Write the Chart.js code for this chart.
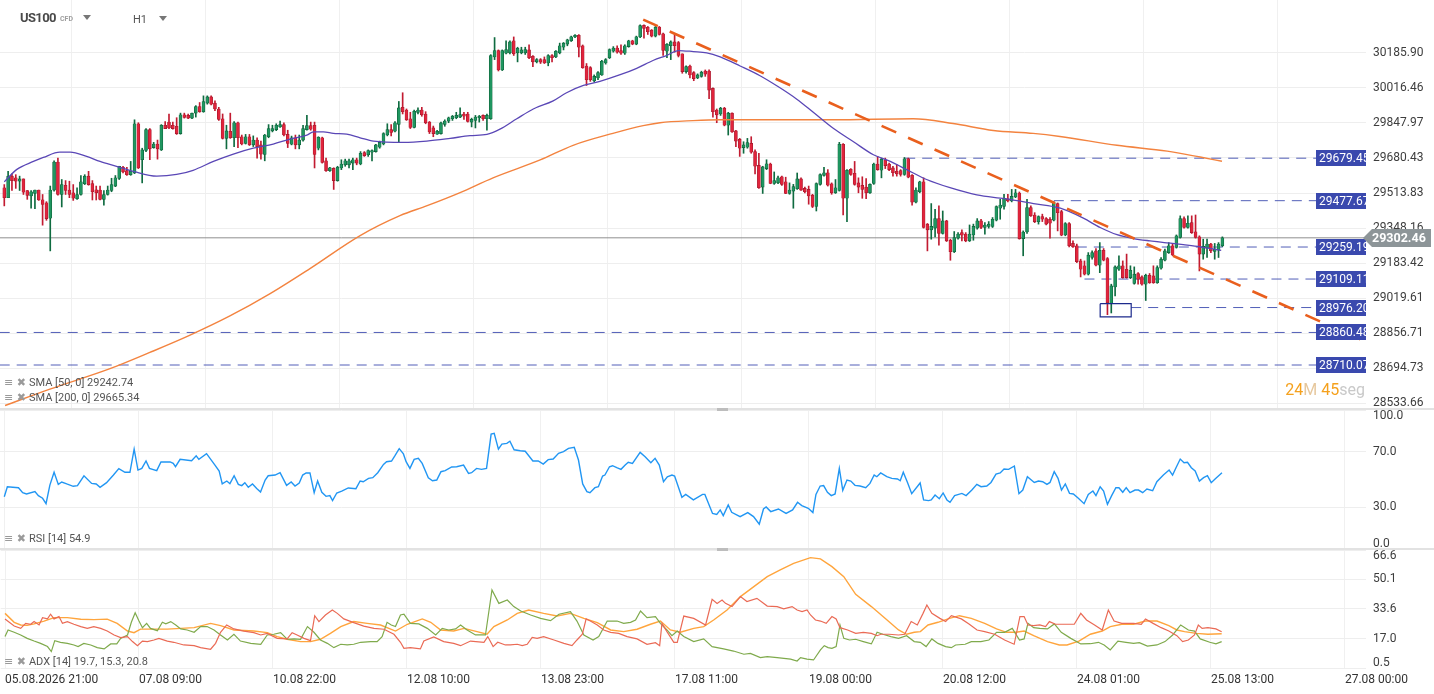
<!DOCTYPE html>
<html>
<head>
<meta charset="utf-8">
<script src="https://cdn.jsdelivr.net/npm/chart.js@4.4.1/dist/chart.umd.min.js"></script>
<style>
  body { margin: 0; background: #fff; width: 1434px; height: 694px; overflow: hidden; position: relative; font-family: Roboto, sans-serif; }
  canvas { position: absolute; left: 0; }
  .ov { position: absolute; white-space: nowrap; }
  .leg { position: absolute; left: 4px; font-size: 11px; color: #555; line-height: 12px; }
  .leg .ic { font-family: "DejaVu Sans"; color: #9a9a9a; font-size: 11px; margin-right: 3px; }
  .tri { position: absolute; width: 0; height: 0; border-left: 4px solid transparent; border-right: 4px solid transparent; border-top: 5px solid #777; }
  .sep { position: absolute; left: 0; width: 1434px; height: 2px; background: #e2e2e2; }
  .handle { position: absolute; left: 717px; width: 11px; height: 3px; background: #bdbdbd; }
</style>
</head>
<body>
<canvas id="priceChart" width="1434" height="409" style="top:0"></canvas>
<canvas id="rsiChart" width="1434" height="139" style="top:410px"></canvas>
<canvas id="adxChart" width="1434" height="144" style="top:550px"></canvas>

<div class="sep" style="top:408px"></div>
<div class="sep" style="top:548px"></div>
<div class="handle" style="top:408px"></div>
<div class="handle" style="top:548px"></div>

<div class="ov" style="left:20px;top:10px;font-size:13px;font-weight:bold;color:#4a4a4a;letter-spacing:-0.6px">US100</div>
<div class="ov" style="left:60px;top:15px;font-size:7px;font-weight:bold;color:#9e9e9e">CFD</div>
<div class="tri" style="left:83px;top:15px"></div>
<div class="ov" style="left:133px;top:13px;font-size:11px;color:#555">H1</div>
<div class="tri" style="left:159px;top:16px"></div>

<div class="leg" style="top:377px"><span class="ic">≡ ✖</span>SMA [50, 0] 29242.74</div>
<div class="leg" style="top:392px"><span class="ic">≡ ✖</span>SMA [200, 0] 29665.34</div>
<div class="leg" style="top:533px"><span class="ic">≡ ✖</span>RSI [14] 54.9</div>
<div class="leg" style="top:656px"><span class="ic">≡ ✖</span>ADX [14] 19.7, 15.3, 20.8</div>

<div class="ov" style="right:69px;top:380px;font-size:16px"><span style="color:#f5a11d">24</span><span style="color:#e6c79d">M</span> <span style="color:#f5a11d">45</span><span style="color:#c9c9c9">seg</span></div>

<script>
// time axis labels, one every 35 hourly bars
const xLabels = ["05.08.2026 21:00", "07.08 09:00", "10.08 22:00", "12.08 10:00", "13.08 23:00",
  "17.08 11:00", "19.08 00:00", "20.08 12:00", "24.08 01:00", "25.08 13:00", "27.08 00:00"];
const barsPerLabel = 35;

// price axis ticks
const priceTicks = [30185.90, 30016.46, 29847.97, 29680.43, 29513.83, 29348.16, 29183.42, 29019.61, 28856.71, 28694.73, 28533.66];
const rsiTicks = [0, 30, 70, 100];
const adxTicks = [0.5, 17.0, 33.6, 50.1, 66.6];

// hourly candles
const opens = [29539,29492,29594,29586,29570,29581,29526,29500,29512,29528,
  29482,29468,29395,29528,29661,29507,29551,29528,29515,29487,
  29507,29558,29594,29559,29529,29528,29484,29507,29526,29547,
  29583,29636,29620,29601,29609,29844,29672,29716,29816,29730,
  29747,29719,29837,29852,29837,29832,29797,29887,29884,29871,
  29895,29927,29902,29943,29973,29943,29915,29868,29774,29808,
  29777,29849,29782,29750,29782,29743,29766,29743,29697,29782,
  29810,29816,29829,29840,29793,29746,29777,29743,29766,29816,
  29835,29837,29727,29777,29667,29620,29631,29573,29633,29648,
  29648,29656,29672,29652,29706,29696,29708,29711,29732,29747,
  29790,29816,29808,29841,29923,29910,29868,29826,29899,29910,
  29891,29852,29824,29794,29797,29841,29857,29868,29873,29876,
  29891,29891,29852,29860,29873,29884,29868,29868,30166,30197,
  30103,30184,30186,30244,30186,30186,30186,30200,30169,30142,
  30153,30153,30137,30173,30166,30186,30213,30228,30244,30263,
  30271,30220,30122,30114,30051,30064,30079,30137,30162,30194,
  30209,30197,30184,30216,30244,30228,30263,30319,30310,30296,
  30267,30311,30278,30194,30220,30239,30236,30181,30095,30122,
  30090,30064,30072,30098,30098,30014,29910,29891,29918,29837,
  29895,29810,29769,29730,29732,29750,29711,29645,29542,29630,
  29652,29559,29562,29591,29567,29512,29523,29534,29581,29536,
  29531,29504,29450,29555,29597,29610,29558,29515,29526,29746,
  29489,29627,29608,29562,29550,29542,29515,29559,29652,29622,
  29671,29652,29633,29617,29620,29602,29677,29598,29471,29520,
  29567,29367,29340,29348,29393,29323,29382,29291,29237,29301,
  29327,29320,29288,29316,29348,29382,29351,29356,29356,29385,
  29442,29450,29487,29476,29495,29514,29299,29330,29445,29410,
  29378,29403,29393,29390,29385,29464,29426,29316,29370,29276,
  29265,29194,29171,29132,29210,29241,29174,29244,29205,28995,
  29072,29155,29171,29155,29116,29089,29135,29119,29085,29127,
  29124,29092,29160,29197,29233,29265,29257,29304,29393,29351,
  29374,29331,29307,29226,29254,29273,29238,29244,29265];
const highs = [29554,29617,29605,29601,29594,29581,29526,29526,29528,29528,
  29507,29473,29547,29667,29680,29578,29573,29570,29554,29539,
  29597,29601,29617,29573,29547,29547,29526,29547,29584,29597,
  29641,29641,29636,29664,29863,29849,29727,29821,29821,29755,
  29766,29840,29855,29891,29852,29873,29895,29895,29891,29895,
  29931,29946,29978,29978,29978,29954,29923,29891,29837,29895,
  29855,29852,29790,29793,29793,29786,29777,29761,29793,29840,
  29837,29844,29857,29848,29813,29785,29790,29790,29837,29884,
  29852,29852,29782,29780,29680,29636,29634,29641,29672,29675,
  29675,29680,29680,29711,29711,29719,29719,29746,29761,29801,
  29844,29840,29855,29951,29993,29915,29899,29910,29920,29923,
  29902,29855,29833,29813,29852,29863,29876,29884,29899,29920,
  29899,29899,29871,29884,29884,29887,29891,30177,30260,30200,
  30200,30244,30244,30263,30213,30213,30213,30225,30173,30158,
  30158,30166,30177,30177,30197,30233,30236,30252,30267,30275,
  30275,30224,30134,30119,30079,30095,30150,30158,30205,30216,
  30220,30225,30225,30247,30247,30267,30322,30322,30314,30299,
  30314,30314,30282,30231,30244,30275,30241,30181,30123,30126,
  30095,30084,30097,30103,30103,30017,29915,29923,29923,29899,
  29896,29813,29774,29758,29774,29782,29719,29703,29641,29672,
  29656,29614,29594,29594,29589,29562,29555,29609,29586,29542,
  29547,29508,29562,29605,29636,29625,29562,29578,29755,29749,
  29625,29630,29664,29586,29591,29583,29558,29656,29688,29680,
  29680,29656,29641,29649,29625,29683,29680,29602,29539,29570,
  29586,29370,29464,29437,29453,29429,29385,29296,29332,29327,
  29340,29327,29363,29367,29393,29390,29374,29379,29398,29453,
  29484,29508,29508,29531,29531,29519,29335,29484,29453,29421,
  29406,29414,29398,29398,29473,29467,29432,29374,29374,29288,
  29273,29202,29194,29233,29241,29252,29280,29252,29210,29085,
  29171,29218,29194,29226,29171,29166,29139,29124,29132,29135,
  29171,29171,29210,29249,29280,29276,29316,29406,29401,29406,
  29406,29410,29312,29296,29296,29276,29276,29280,29307];
const lows = [29453,29492,29526,29536,29526,29507,29484,29442,29440,29479,
  29362,29385,29241,29523,29504,29448,29507,29492,29479,29484,
  29504,29554,29551,29481,29481,29481,29457,29504,29520,29544,
  29578,29609,29598,29598,29606,29630,29562,29711,29672,29727,
  29675,29716,29821,29821,29818,29793,29794,29871,29868,29868,
  29876,29899,29899,29938,29934,29907,29860,29771,29724,29774,
  29735,29730,29743,29747,29740,29735,29680,29675,29667,29777,
  29805,29811,29826,29786,29730,29743,29724,29724,29761,29813,
  29813,29633,29719,29656,29617,29617,29531,29570,29625,29641,
  29633,29625,29648,29648,29688,29688,29667,29708,29727,29743,
  29786,29786,29805,29755,29891,29860,29821,29824,29891,29880,
  29844,29797,29782,29793,29794,29832,29849,29860,29868,29873,
  29865,29852,29829,29824,29852,29860,29813,29865,30153,30098,
  30100,30181,30181,30173,30142,30181,30178,30158,30119,30137,
  30134,30134,30123,30142,30162,30181,30200,30220,30241,30260,
  30166,30111,30028,30048,30045,30056,30076,30131,30158,30189,
  30184,30178,30178,30213,30225,30225,30260,30257,30275,30263,
  30263,30272,30173,30162,30153,30189,30166,30087,30087,30064,
  30051,30061,30068,30072,29965,29876,29849,29884,29834,29790,
  29802,29735,29688,29703,29727,29703,29605,29536,29512,29625,
  29558,29555,29558,29550,29511,29508,29442,29531,29526,29515,
  29461,29445,29429,29551,29594,29547,29508,29512,29523,29410,
  29378,29598,29551,29515,29489,29487,29512,29555,29622,29586,
  29630,29620,29594,29594,29594,29598,29586,29457,29467,29515,
  29348,29241,29296,29307,29268,29320,29285,29197,29233,29296,
  29288,29284,29285,29291,29343,29346,29320,29348,29351,29382,
  29390,29437,29472,29472,29492,29296,29218,29323,29403,29374,
  29367,29379,29363,29301,29382,29335,29312,29312,29260,29257,
  29186,29119,29128,29128,29202,29171,29139,29194,28943,28951,
  29030,29150,29113,29113,29111,29085,29085,29081,29009,29089,
  29089,29089,29155,29194,29229,29219,29254,29301,29348,29348,
  29323,29301,29147,29202,29210,29233,29202,29210,29261];
const closes = [29492,29594,29573,29570,29581,29518,29503,29520,29528,29481,
  29460,29393,29528,29661,29507,29554,29526,29507,29489,29507,
  29567,29594,29554,29520,29515,29484,29507,29528,29554,29586,
  29641,29614,29601,29617,29844,29633,29719,29816,29724,29747,
  29724,29837,29821,29824,29821,29797,29887,29874,29871,29895,
  29927,29902,29951,29973,29938,29915,29865,29774,29810,29777,
  29849,29777,29747,29782,29743,29766,29735,29699,29790,29821,
  29821,29837,29840,29790,29750,29777,29743,29766,29821,29835,
  29818,29697,29779,29659,29620,29634,29573,29636,29652,29667,
  29667,29672,29656,29703,29692,29716,29716,29743,29755,29797,
  29816,29802,29849,29920,29902,29863,29826,29904,29910,29887,
  29849,29805,29797,29808,29848,29857,29873,29880,29884,29888,
  29880,29855,29865,29876,29880,29868,29884,30173,30197,30103,
  30197,30202,30239,30181,30208,30200,30202,30162,30142,30153,
  30141,30137,30173,30162,30194,30220,30233,30249,30264,30271,
  30213,30114,30056,30056,30072,30090,30145,30153,30202,30209,
  30189,30184,30220,30244,30228,30264,30318,30304,30288,30267,
  30310,30275,30197,30228,30239,30220,30173,30095,30119,30079,
  30061,30079,30092,30083,30006,29902,29887,29918,29837,29895,
  29805,29761,29727,29743,29754,29708,29641,29539,29638,29653,
  29559,29573,29586,29555,29512,29528,29544,29581,29528,29520,
  29500,29450,29559,29602,29610,29551,29515,29539,29746,29489,
  29622,29602,29555,29542,29531,29515,29555,29652,29625,29675,
  29644,29625,29610,29605,29602,29677,29589,29471,29528,29567,
  29351,29340,29356,29393,29323,29382,29288,29237,29304,29320,
  29315,29288,29320,29356,29382,29351,29363,29367,29390,29450,
  29457,29489,29476,29498,29515,29299,29330,29445,29406,29379,
  29403,29390,29367,29371,29468,29421,29315,29370,29265,29260,
  29191,29155,29132,29221,29233,29174,29244,29197,28998,29077,
  29166,29171,29116,29116,29150,29132,29108,29085,29127,29092,
  29092,29163,29202,29241,29265,29222,29312,29393,29351,29371,
  29327,29304,29226,29262,29273,29241,29249,29273,29302.46];

// moving averages read at bar positions
const sma50Idx = [0,3.2,7.6,10.2,14.5,17.2,21.5,25,29.3,33.7,39.8,45,49.3,54.6,59.8,65,70.2,74.6,79,80.7,
  83.3,85.9,89.4,92.9,96.4,104.2,110.3,116.4,121.6,126,129.4,133.8,138.1,143.3,146.8,151.2,155.5,160.8,165.1,169.5,
  173,176,179.9,183.4,186.9,192.1,197.3,202.4,206.9,211.2,216.5,221.7,226.9,231.3,235.6,240.8,246.9,253.9,261.2,268.7,
  275.7,281.7,286.1,290.5,294.8,299.1,303.5,307.8,312.2,317.7];
const sma50Val = [29567,29625,29664,29683,29708,29708,29688,29664,29641,29617,29594,29602,29622,29664,29699,29727,29747,29771,29790,29805,
  29805,29798,29794,29777,29761,29755,29761,29774,29787,29793,29818,29868,29915,29954,29993,30028,30048,30080,30111,30150,
  30174,30197,30192,30186,30166,30122,30075,30018,29962,29899,29821,29758,29696,29664,29625,29578,29539,29505,29487,29464,
  29442,29395,29351,29317,29299,29288,29279,29270,29260,29243];
const sma200Idx = [0.2,11.9,27.6,38,48.5,58.9,69.4,79.8,92.9,103.3,110.4,119,127.6,139.9,148.5,158.9,166.8,171.2,179.8,186.9,
  216.4,237.3,247.7,258.2,268.6,275.6,290.5,303.6,312.2,317.9];
const sma200Val = [28524,28599,28693,28768,28848,28937,29041,29158,29313,29407,29454,29516,29586,29671,29741,29798,29835,29849,29859,29863,
  29863,29868,29845,29812,29798,29783,29741,29713,29685,29665];

// drawn objects
const trendIdx = [166.8, 354];
const trendPrice = [30347, 28829];
const hLevels = [29679.45, 29477.67, 29259.19, 29109.11, 28976.20, 28860.48, 28710.07];
const hStartIdx = [235.2, 274, 280, 282, 294.2, -1.2, -1.2];
const boxIdx = [286.1, 294.2];
const boxPrice = [28933, 28994];

// RSI [14]
const rsiPoints = [[0,37.6],[0.8,44.8],[3.7,44.1],[4.8,40.5],[5.8,39.6],[8,41.3],[8.9,38.4],[10,36.5],[10.9,32.6],[11.9,46],
  [13,55.2],[14.1,46.5],[15,48.2],[16.3,46.8],[18,45.1],[19.1,45.6],[20.8,52.7],[22.8,47.2],[24,46.8],[25,44.4],
  [26.7,47.7],[28.5,53.2],[29.9,57.8],[31.5,55.2],[32.8,55.2],[33.9,71.9],[34.9,56.8],[35.9,58],[37,63.3],[37.9,58],
  [39.8,56.4],[40.9,62.6],[43.3,62.6],[44.1,61.6],[44.7,59.2],[45.9,64.5],[48.9,63.5],[50.1,67.1],[50.8,64.5],[52.8,68.6],
  [55,60.4],[56.1,56.1],[56.9,46.8],[58.1,48.9],[58.9,47],[60,52.7],[61.1,46.5],[62,45.6],[62.8,47.7],[63.7,44.4],
  [64.8,46.8],[65.9,43.6],[66.9,41],[68.1,49.6],[68.9,52.7],[70.7,53.2],[72,54.9],[73.7,45.8],[74.9,48.2],[75.9,45.3],
  [77,47.5],[77.9,53.2],[78.8,54.7],[79.8,54.7],[80.9,40.5],[81.8,48.9],[82.9,40.8],[84,37.9],[85,38.4],[85.7,34.8],
  [86.8,40.3],[88.1,41.7],[89.8,43.9],[91.8,43.4],[92.9,48.9],[93.7,48.4],[95.1,50.8],[96.2,51.3],[97.5,54.9],[99,60.9],
  [99.8,62.8],[101.1,63.3],[102,67.1],[103.1,72.2],[104.2,68.4],[104.9,62.8],[105.9,58],[107,64.5],[108.1,65.2],[109.1,61.6],
  [110.7,51.3],[111.8,49.1],[112.9,49.6],[114,55.6],[115.1,56.4],[116.8,59],[118.1,59.2],[119.9,60.4],[121.2,54.4],[122,54.9],
  [123.3,58],[124.6,57.3],[125.9,58],[127.1,82.7],[127.9,83.2],[129,71.9],[129.9,75.5],[131.2,76],[132,77.5],[133.1,71.4],
  [134.7,70.7],[136,70.3],[138,63.3],[139.4,63.3],[140.7,61.1],[142,64.3],[143.3,64.7],[144.7,68.8],[146,70],[147.3,72.4],
  [148.8,73.1],[149.9,64],[151,46.8],[152.1,41.3],[152.9,40.5],[154.2,44.1],[155.1,44.8],[156.2,52.5],[156.8,53.2],[158,59.2],
  [158.8,59.9],[159.9,58.5],[161,57.3],[162.1,60.4],[162.9,62.4],[164,61.6],[166,69.5],[167.3,66.4],[168.8,62.1],[169.9,65.2],
  [171,60.4],[172.1,48.4],[173.1,52],[174.3,53.2],[175,52.5],[176.9,37.2],[177.9,39.3],[179.9,35.3],[182.3,39.3],[182.9,39.3],
  [184.9,25.6],[186,24.9],[186.9,28.1],[187.7,24],[189,31.7],[189.9,26.4],[192.1,23.3],[194.1,26.2],[195.6,23.3],[197.1,17.8],
  [198.2,28.8],[198.9,30.2],[200.1,26.9],[202.1,28.8],[204.1,25.6],[205.8,28.1],[207.1,33.6],[208.2,31.2],[209.9,29.3],[211.1,26.2],
  [211.9,39.3],[213,45.3],[213.9,45.6],[214.9,40.8],[215.9,38.4],[216.9,39.6],[218,58],[218.9,42.2],[220,49.6],[221,48.9],
  [222.1,45.8],[223.4,45.3],[224.9,44.1],[226,47.2],[227.1,53.2],[227.8,52],[228.8,54.7],[230.4,52],[231.7,50.8],[233.2,50.4],
  [233.9,49.1],[234.7,55.2],[235.8,47.9],[236.9,39.8],[239.1,47.5],[240,35.3],[241.3,34.8],[242,35.3],[243,38.8],[244.1,36.2],
  [245.1,40.3],[246.1,35.3],[246.9,33.6],[248.1,38.4],[250,40],[251.1,38.4],[252.6,42.4],[253.9,46.5],[255,44.8],[256.5,45.3],
  [257.6,47.9],[258.9,53.9],[260,54.7],[261,57.6],[262.2,57.3],[263.7,59.7],[264.9,39.8],[265.9,42.4],[267.1,52],[268.9,47.9],
  [270,48.9],[271.1,48.4],[272.2,46.5],[273,47.9],[274.1,55.6],[275.1,50.8],[276,42.4],[277,46.8],[278.1,40],[279.1,39.6],
  [280.4,36.5],[281.9,32.6],[283,39.3],[284.2,41.7],[285,38.4],[286.1,44.8],[287,41.7],[288,32.1],[289.1,38.4],[290.2,44.1],
  [291,44.1],[292,40.8],[292.9,44.1],[293.9,40.5],[295.2,42.4],[296.1,42.4],[297.2,40.5],[298.3,43.1],[299.8,41.9],[300.9,48.4],
  [302.6,53.2],[304.1,56.8],[305,53.2],[305.9,58.5],[307,64.7],[308,62.1],[308.9,62.4],[309.9,58.5],[310.9,56.1],[312,48.9],
  [313.1,51.3],[314.1,52.7],[315.1,47.7],[316.1,50.4],[317.9,54.9]];

// ADX [14]: ADX line, +DI, -DI
const adxPoints = [[0,31.1],[2.4,26.1],[4.1,24.6],[5.8,24.4],[7.6,25.2],[10.2,26.8],[12.8,28.7],[16.3,28.7],[19.8,27.8],[23.2,27.6],
  [26.7,27.9],[29.3,25.5],[32,21.2],[33.7,20.3],[35.4,22.3],[38.9,22.3],[42.4,22.3],[45.9,22.7],[49.4,23.1],[53.7,25.5],
  [56.3,24.2],[59.8,21.8],[65,21.2],[68.5,20.3],[71.1,18.1],[73.7,16.6],[77.2,15.3],[79.8,15.3],[82.4,16.6],[85,19.9],
  [87.7,23.7],[91.1,26.5],[94.6,25.5],[98.1,24.6],[102,21.2],[105.1,25],[109,28],[111.2,26.1],[113.8,21.8],[117.2,21.2],
  [119.9,22.7],[123.3,20.9],[125.9,19.4],[127.7,23.7],[131.2,27.4],[133.8,31.1],[136.8,33],[140.7,31.1],[144.2,29.6],[147.7,31.1],
  [151.2,28.3],[154.7,25.9],[158.2,21.8],[161.6,20.9],[165.1,22.2],[168.6,25],[171.2,26.8],[173.8,21.8],[176.4,20.5],[179.9,22.7],
  [182.5,23.7],[185.1,27.4],[188.6,33],[192.1,40.5],[195.6,46.1],[199.1,51.7],[202.5,55.4],[206,59.1],[210.4,62.3],[213,61.6],
  [216,57.3],[219.1,51.7],[222.2,41.8],[226.3,34.9],[230.4,27.4],[233.4,21.8],[235.5,19.4],[237.5,20.5],[239.1,20.9],[241.1,24.6],
  [243.7,26.1],[246.7,28.3],[249.3,29.8],[252.4,28.3],[255.9,25.5],[259,22.4],[261.6,20.5],[264.1,20.5],[266.2,21.2],[268.7,18.6],
  [272.3,15.3],[275.4,13.4],[277.4,13.4],[280.5,15.6],[283.5,19.4],[286.6,21.2],[288.7,23.7],[291.7,25],[294.8,25],[297.9,26.8],
  [300.9,26.8],[304,24.2],[306.1,21.8],[308.1,20.9],[311.2,19.9],[314.2,19.4],[317.8,19.7]];
const plusDiPoints = [[0,18.1],[0.8,21.8],[2.4,20.5],[4.1,19],[5.8,17.1],[7.6,15.6],[9.3,14.3],[11.1,12.5],[12.1,9.7],[13,15.8],
  [14.5,14.9],[16.3,14.3],[18,13.4],[19.1,12.5],[20.6,14.3],[22.4,13.4],[24.1,11.9],[25.9,11.2],[27.6,14],[29.2,14],
  [30.2,17.1],[32,19],[33,26.1],[34,31.5],[35,26.8],[35.9,23.1],[37,25.5],[38,22.7],[39.8,21.4],[41.1,26.1],
  [42,25.2],[43.3,26.5],[44.6,24.6],[45.9,22.4],[47.6,21.8],[49.4,20.5],[51.1,23.7],[52.8,23.7],[54.6,21.8],[56.3,19],
  [58.1,16.2],[59.8,19.4],[61.5,15.6],[64.2,14.3],[66.8,13.8],[68.5,19],[70.2,19.4],[72,20.3],[73.7,16.6],[75.5,16.8],
  [77.2,16.6],[79,23.7],[80.7,20.5],[82.4,16.2],[84.2,14.3],[85.9,11.9],[87.7,13.8],[89.4,13.4],[91.1,13.8],[92.9,14.9],
  [95.5,15.3],[97.2,15.3],[98.5,18.1],[99.8,26.1],[100.9,24.6],[102,23.7],[103.3,30.2],[104.2,30.6],[105.9,25.5],[108.1,25.2],
  [110.3,22.7],[112.5,19],[114.2,22.7],[115.9,21.8],[117.7,22.4],[119,24.6],[120.7,21.8],[122.9,19],[125.5,19],[127.2,44.2],
  [129,36.7],[131.2,38.6],[132.9,34.9],[134.7,32.4],[137.3,30.2],[139.9,28.3],[142.5,27],[144.7,30.6],[147.7,32.1],[149.4,26.8],
  [151.2,19],[153.6,16.2],[155.1,18.1],[157.3,26.8],[159.9,26.8],[161.6,25.5],[163.4,26.1],[164.7,27.4],[166,32.4],[167.7,28.7],
  [169.9,29.3],[171.2,25.5],[172.9,21.8],[174.2,18.6],[175.6,21.2],[177.3,18.1],[179.9,15.3],[182.5,16.8],[184.7,12.5],[187.7,11.2],
  [190.3,10],[193,8.2],[194.7,8.7],[197.3,6.3],[199.1,6.9],[201.7,6.3],[205.2,5.5],[206.9,4.4],[207.8,6.3],[209.5,5.5],
  [211.2,5],[213,10.6],[214,13],[215,11.9],[216,11.5],[217.1,12.5],[218.1,24.6],[219.1,17.1],[220.6,16.2],[222.2,16.6],
  [224.2,15.3],[226.3,14],[227.8,20.5],[229.3,19.4],[231.4,18.1],[233.4,17.1],[235.5,18.6],[237.5,15.3],[239.1,14.9],[240.6,12.5],
  [242.1,16.8],[243.7,14.3],[245.7,12.5],[247.2,11.9],[248.3,13.4],[250.8,13.8],[252.4,15.3],[254.9,15.3],[257,16.2],[259,20.5],
  [261.1,20.5],[263.1,22.7],[265,16.2],[266.2,16.8],[267.2,25.5],[268.7,23.1],[270.3,22.7],[272.3,22.4],[274.1,25.2],[275.9,20.5],
  [278.4,17.1],[281,14],[283.5,14.1],[285.6,14.9],[287.1,13.4],[288.7,10.6],[290.7,15.6],[292.8,14.9],[294.8,14.3],[296.3,14.7],
  [298.4,12.8],[300.9,13.4],[303,15.3],[305,19],[307.1,24.6],[309.1,21.8],[310.7,21.2],[312.2,16.8],[314.7,14.9],[316.3,14],
  [317.8,15.3]];
const minusDiPoints = [[0,28],[2.4,24],[4.1,22.7],[5.4,25.5],[6.7,25],[7.6,26.5],[8.9,24.6],[9.8,28.7],[11.1,28],[11.9,30.6],
  [12.8,28],[14.1,29.3],[15,25.5],[16.3,26.5],[18,25],[19.8,23.7],[21.5,22.7],[23.2,23.7],[25,22.7],[26.7,21.2],
  [28.5,19],[30.2,17.5],[32,18.1],[33.3,15.3],[34.6,13],[35.9,15.6],[37.2,15.3],[38.9,16.2],[40.2,17.1],[42.4,15.6],
  [44.1,14.9],[46.7,13.4],[49.4,13],[51.1,11.9],[53.7,11],[55,14.3],[56.3,20.5],[57.9,24.6],[59.8,22.4],[62.4,21.2],
  [65,20.3],[66.8,19],[68.5,19.9],[71.1,17.1],[73.7,16.8],[75,20.3],[76.3,19],[78.1,17.1],[79.8,15.8],[80.9,29.8],
  [82,26.5],[83.7,30.2],[85.5,33],[86.8,31.1],[88.5,28],[91.1,25.9],[93.7,24],[96.4,22.7],[99,22.2],[101.6,19.4],
  [103.3,14.9],[104.2,11.5],[105.9,11.9],[108.5,11.2],[109.4,15.6],[112,17.9],[114.6,15.3],[117.2,14.3],[119,13],[121.6,15.6],
  [125.1,14.9],[126.1,18.1],[127.5,12.5],[128.7,14.9],[130.7,13.4],[132,13.4],[133.8,13.8],[135.1,13],[136.4,13.8],[137.7,17.7],
  [139,17.1],[140.7,18.1],[143.4,16.2],[146,14.3],[148.1,13],[149.4,16.2],[150.8,19.4],[151.8,28],[152.9,26.8],[154.7,24.6],
  [156.4,21.8],[158.2,20.5],[160.3,19.9],[162.5,18.1],[165.1,16.8],[167.7,13.8],[169.9,14.7],[171,13],[171.6,25.5],[172.9,20.9],
  [174.7,14.9],[175.6,14.9],[177.3,29.6],[179.9,28.3],[183,24.6],[184.7,39],[186,36.7],[187.3,38.6],[188.2,36.7],[189.9,34.9],
  [192.1,40.5],[193.8,37.7],[196.4,39.5],[199.1,35.2],[201.7,34.9],[203.4,33.6],[205.6,34.9],[206.9,33],[208.2,32.1],[209.5,33],
  [210.4,30.2],[211.7,27.4],[213,26.8],[214.5,25.5],[216,29.3],[217.1,28],[218.1,23.1],[220.1,21.8],[222.2,19.9],[224.2,20.5],
  [226.3,19.9],[227.8,18.6],[228.8,19.4],[230.9,19.4],[233.4,19],[235,19.4],[236.7,26.5],[238.3,24.6],[239.8,31.1],[240.8,35.8],
  [242.1,31.1],[244.2,28.3],[245.7,26.5],[247.2,29.8],[249.8,28],[251.8,25.2],[253.9,21.8],[255.9,20.9],[258.5,19.4],[261.1,16.2],
  [263.6,13.8],[265.1,29.3],[266.2,29.3],[267.2,24.6],[268.7,24.2],[270.3,24.6],[271.8,23.7],[272.8,26.5],[274.4,25],[277.4,25],
  [279.3,25],[281,31.1],[282.5,27.4],[284.6,24.6],[286.6,21.8],[288.2,33],[289.7,26.8],[291.7,25.5],[294.8,25.5],[296.8,25],
  [297.9,28],[299.9,25.5],[302,23.1],[304,21.2],[306.1,18.6],[307.6,15.3],[309.1,16.2],[310.7,19],[311.7,24.6],[312.7,22.7],
  [314.2,23.1],[316.3,22.4],[317.8,20.8]];

const xMin = -1.12;
const xMax = 355.5;
const lastPrice = closes[closes.length - 1];
const tickIdx = xLabels.map((_, k) => k * barsPerLabel);
const FONT = "Roboto";

const up = closes.map((c, i) => c >= opens[i]);
const pts = (xs, ys) => xs.map((x, k) => ({ x: x, y: ys[k] }));
const pairs = arr => arr.map(p => ({ x: p[0], y: p[1] }));

function xAxis(showLabels) {
  return {
    type: "linear", min: xMin, max: xMax, offset: false, bounds: "data",
    afterBuildTicks: s => { s.ticks = tickIdx.map(v => ({ value: v })); },
    afterFit: s => { s.height = showLabels ? 26 : 0; },
    grid: { color: "#f0f0f0", drawTicks: false },
    border: { display: false },
    ticks: {
      display: showLabels, align: "start", autoSkip: false, maxRotation: 0, padding: 5,
      color: "#333", font: { family: FONT, size: 12 },
      callback: v => xLabels[tickIdx.indexOf(v)]
    }
  };
}

function yAxis(extra, tickList) {
  return Object.assign({
    position: "right", bounds: "data",
    afterBuildTicks: s => { s.ticks = tickList.map(v => ({ value: v })); },
    afterFit: s => { s.width = 68; },
    grid: { color: "#eeeeee", drawTicks: false },
    border: { display: false },
    ticks: { display: false }
  }, extra);
}

// right side axis labels, kept inside the panel
const sideLabels = {
  id: "sideLabels",
  afterDraw(chart, args, opts) {
    const s = chart.scales.y, ctx = chart.ctx;
    ctx.save();
    ctx.font = "12px " + FONT;
    ctx.fillStyle = "#3d3d3d";
    ctx.textBaseline = "middle";
    s.ticks.forEach(t => {
      let py = s.getPixelForValue(t.value);
      py = Math.min(Math.max(py, s.top + 6), s.bottom - 5);
      ctx.fillText(t.value.toFixed(opts.digits), s.left + 7, py);
    });
    ctx.restore();
  }
};

// level tags and last price tag
const priceTags = {
  id: "priceTags",
  afterDraw(chart) {
    const s = chart.scales.y, ctx = chart.ctx, right = chart.chartArea.right;
    ctx.save();
    ctx.textBaseline = "middle";
    hLevels.forEach(lv => {
      const py = Math.round(s.getPixelForValue(lv));
      ctx.save();
      ctx.beginPath();
      ctx.rect(right - 50, py - 8, 50, 16);
      ctx.clip();
      ctx.fillStyle = "#3a49ae";
      ctx.fillRect(right - 50, py - 8, 50, 16);
      ctx.fillStyle = "#ffffff";
      ctx.font = "12px " + FONT;
      ctx.fillText(lv.toFixed(2), right - 47, py + 1);
      ctx.restore();
    });
    const py = Math.round(s.getPixelForValue(lastPrice));
    ctx.fillStyle = "#8d9598";
    ctx.beginPath();
    ctx.moveTo(right - 3, py);
    ctx.lineTo(right + 6, py - 9);
    ctx.lineTo(1431, py - 9);
    ctx.lineTo(1431, py + 9);
    ctx.lineTo(right + 6, py + 9);
    ctx.closePath();
    ctx.fill();
    ctx.fillStyle = "#ffffff";
    ctx.font = "bold 12.5px " + FONT;
    ctx.fillText(lastPrice.toFixed(2), right + 6, py + 1);
    ctx.restore();
  }
};

const baseOptions = {
  responsive: false,
  animation: false,
  events: [],
  layout: { padding: 0 },
  plugins: { legend: { display: false }, tooltip: { enabled: false } }
};

const levelSets = hLevels.map((lv, k) => ({
  type: "line", data: [{ x: hStartIdx[k], y: lv }, { x: xMax, y: lv }],
  borderColor: "rgba(52,67,172,0.85)", borderWidth: 1, borderDash: [10, 7], pointRadius: 0, order: 5
}));

new Chart(document.getElementById("priceChart"), {
  type: "bar",
  data: {
    datasets: [
      { type: "line", data: pts(trendIdx, trendPrice), borderColor: "#e95f1d", borderWidth: 2.6,
        borderDash: [16, 13], pointRadius: 0, order: 0 },
      { type: "line", data: [
          { x: boxIdx[0], y: boxPrice[1] }, { x: boxIdx[1], y: boxPrice[1] },
          { x: boxIdx[1], y: boxPrice[0] }, { x: boxIdx[0], y: boxPrice[0] },
          { x: boxIdx[0], y: boxPrice[1] }],
        borderColor: "#1c2a8c", borderWidth: 1.2, pointRadius: 0, order: 0 },
      { type: "line", data: pts(sma50Idx, sma50Val), borderColor: "#5a47b6", borderWidth: 1.3,
        pointRadius: 0, cubicInterpolationMode: "monotone", order: 1 },
      { type: "line", data: pts(sma200Idx, sma200Val), borderColor: "#f3833f", borderWidth: 1.4,
        pointRadius: 0, cubicInterpolationMode: "monotone", order: 1 },
      { type: "bar", data: closes.map((c, i) => ({ x: i, y: [opens[i], c] })),
        backgroundColor: up.map(u => u ? "#1f9660" : "#e1243c"),
        borderColor: up.map(u => u ? "#0d5e37" : "#a0172a"),
        borderWidth: 0.6, borderSkipped: false, barThickness: 3, minBarLength: 1, grouped: false, order: 2 },
      { type: "bar", data: closes.map((c, i) => ({ x: i, y: [lows[i], highs[i]] })),
        backgroundColor: up.map(u => u ? "#0f6b40" : "#c21b31"),
        barThickness: 1, grouped: false, order: 3 },
      ...levelSets,
      { type: "line", data: [{ x: xMin, y: lastPrice }, { x: xMax, y: lastPrice }],
        borderColor: "#8f8f8f", borderWidth: 1, pointRadius: 0, order: 6 }
    ]
  },
  options: Object.assign({}, baseOptions, {
    plugins: Object.assign({}, baseOptions.plugins, { sideLabels: { digits: 2 } }),
    scales: {
      x: xAxis(false),
      y: yAxis({ type: "logarithmic", min: 28508, max: 30443 }, priceTicks)
    }
  }),
  plugins: [sideLabels, priceTags]
});

new Chart(document.getElementById("rsiChart"), {
  type: "line",
  data: {
    datasets: [
      { data: pairs(rsiPoints), borderColor: "#2196f3", borderWidth: 1.4, pointRadius: 0 }
    ]
  },
  options: Object.assign({}, baseOptions, {
    plugins: Object.assign({}, baseOptions.plugins, { sideLabels: { digits: 1 } }),
    scales: {
      x: xAxis(false),
      y: yAxis({ type: "linear", min: 0, max: 100 }, rsiTicks)
    }
  }),
  plugins: [sideLabels]
});

new Chart(document.getElementById("adxChart"), {
  type: "line",
  data: {
    datasets: [
      { data: pairs(minusDiPoints), borderColor: "#ea6a55", borderWidth: 1.2, pointRadius: 0 },
      { data: pairs(plusDiPoints), borderColor: "#7faa4c", borderWidth: 1.2, pointRadius: 0 },
      { data: pairs(adxPoints), borderColor: "#ffa53d", borderWidth: 1.4, pointRadius: 0 }
    ]
  },
  options: Object.assign({}, baseOptions, {
    plugins: Object.assign({}, baseOptions.plugins, { sideLabels: { digits: 1 } }),
    scales: {
      x: xAxis(true),
      y: yAxis({ type: "linear", min: 0.5, max: 66.6 }, adxTicks)
    }
  }),
  plugins: [sideLabels]
});
</script>
</body>
</html>
